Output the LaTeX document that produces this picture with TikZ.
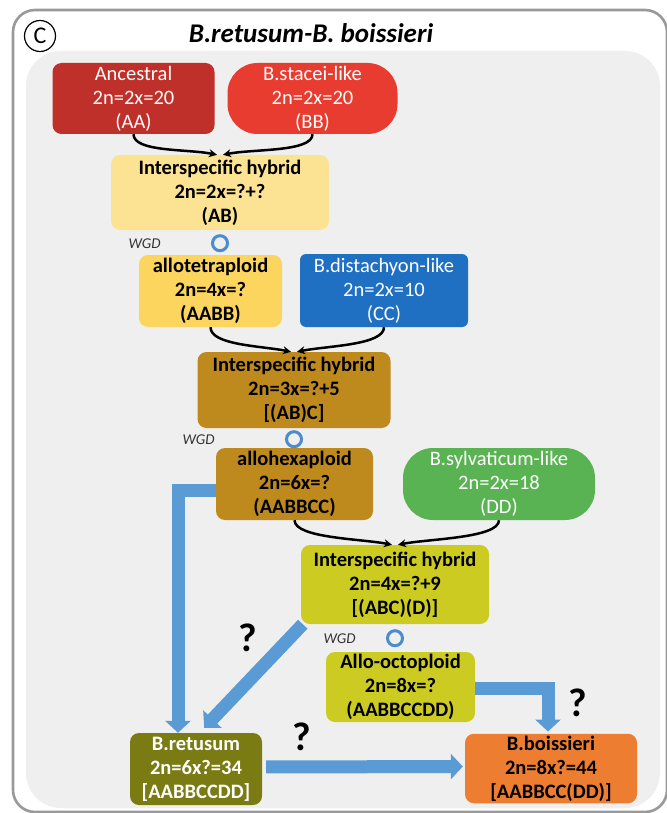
\documentclass[tikz,border=0pt]{standalone}
\usepackage{fontspec}
\setmainfont{Carlito}
\usetikzlibrary{positioning,arrows.meta}
\definecolor{panelC}{RGB}{239,239,239}
\definecolor{ancC}{RGB}{192,48,42}
\definecolor{staC}{RGB}{232,60,48}
\definecolor{hybaC}{RGB}{252,227,148}
\definecolor{tetC}{RGB}{252,213,95}
\definecolor{distC}{RGB}{31,111,195}
\definecolor{hexC}{RGB}{190,138,30}
\definecolor{sylC}{RGB}{90,179,82}
\definecolor{octC}{RGB}{203,203,34}
\definecolor{retC}{RGB}{123,123,20}
\definecolor{boiC}{RGB}{236,125,49}
\definecolor{arrC}{RGB}{91,155,213}
\definecolor{wgdC}{RGB}{74,140,208}

\begin{document}
\begin{tikzpicture}[x=1pt,y=-1pt,
	box/.style={rectangle,rounded corners=9pt,align=center,inner sep=2pt,font=\bfseries\fontsize{20.5}{24}\selectfont},
	pill/.style={box,rounded corners=30pt},
	wbox/.style={text=white,font=\fontsize{20.5}{24}\selectfont},
	merge/.style={-{Stealth[length=8pt,width=8pt]},line width=2.5pt,black},
	wgd/.style={circle,draw=wgdC,line width=3pt,minimum size=15pt,inner sep=0pt},
	wgdlbl/.style={font=\itshape\fontsize{15}{15}\selectfont,text=black!80},
	fat/.style={line width=13pt,draw=arrC,-{Triangle[width=25pt,length=12pt]}},
	ask/.style={font=\bfseries\fontsize{40}{40}\selectfont}]
			%% frame
			\fill[white] (0,0) rectangle (666,813);
			\useasboundingbox (0,0) rectangle (666,813);
			\draw[rounded corners=22pt,line width=2.6pt,draw=gray!80] (13,10) rectangle (667,812);
			\fill[panelC,rounded corners=35pt] (26,51) rectangle (660,808);
			\node[circle,draw,line width=1.2pt,minimum size=31pt,inner sep=0pt,font=\fontsize{24}{24}\selectfont] (lbl) at (40,36) {C};
			\node[font=\bfseries\itshape\fontsize{27}{27}\selectfont] (ttl) at (311,33) {B.retusum-B. boissieri};
			%% boxes
			\node[box,wbox,fill=ancC,minimum width=162pt,minimum height=71pt] (anc) at (133.5,98.5) {Ancestral\\2n=2x=20\\(AA)};
			\node[pill,wbox,fill=staC,minimum width=170pt,minimum height=71pt] (sta) at (312.5,98.5) {B.stacei-like\\2n=2x=20\\(BB)};
			\node[box,fill=hybaC,minimum width=218pt,minimum height=75pt] (hyb1) at (220,192.5) {Interspecific hybrid\\2n=2x=?+?\\(AB)};
			\node[box,fill=tetC,minimum width=143pt,minimum height=72pt] (tet) at (210.5,291) {allotetraploid\\2n=4x=?\\(AABB)};
			\node[box,wbox,fill=distC,rounded corners=6pt,minimum width=168pt,minimum height=73pt] (dist) at (384,290.5) {B.distachyon-like\\2n=2x=10\\(CC)};
			\node[box,fill=hexC,minimum width=193pt,minimum height=76pt] (hyb2) at (294,390) {Interspecific hybrid\\2n=3x=?+5\\{[}(AB)C{]}};
			\node[box,fill=hexC,minimum width=157pt,minimum height=72pt] (hex) at (294.5,484) {allohexaploid\\2n=6x=?\\(AABBCC)};
			\node[pill,wbox,fill=sylC,minimum width=192pt,minimum height=72pt] (syl) at (499,484) {B.sylvaticum-like\\2n=2x=18\\(DD)};
			\node[box,fill=octC,minimum width=188pt,minimum height=79pt] (hyb3) at (395,584.5) {Interspecific hybrid\\2n=4x=?+9\\{[}(ABC)(D){]}};
			\node[box,fill=octC,minimum width=149pt,minimum height=70pt] (oct) at (400.5,687) {Allo-octoploid\\2n=8x=?\\(AABBCCDD)};
			\node[box,text=white,fill=retC,minimum width=132pt,minimum height=72pt] (ret) at (196,769) {B.retusum\\2n=6x?=34\\{[}AABBCCDD{]}};
			\node[box,fill=boiC,minimum width=172pt,minimum height=69pt] (boi) at (551,768.5) {B.boissieri\\2n=8x?=44\\{[}AABBCC(DD){]}};
			%% WGD
			\node[wgd,below=4pt of hyb1] (w1) {};
			\node[wgdlbl,left=47pt of w1] (w1l) {WGD};
			\node[wgd,below=2pt of hyb2] (w2) {};
			\node[wgdlbl,left=67pt of w2] (w2l) {WGD};
			\node[wgd,below=5pt of hyb3] (w3) {};
			\node[wgdlbl,left=27pt of w3] (w3l) {WGD};
			%% crossings
			\draw[merge] (anc.south) .. controls +(0,18) and +(-30,-6) .. ([xshift=-3pt]hyb1.north);
			\draw[merge] (sta.south) .. controls +(0,18) and +(30,-6) .. ([xshift=3pt]hyb1.north);
			\draw[merge] (tet.south) .. controls +(0,18) and +(-30,-6) .. ([xshift=-3pt]hyb2.north);
			\draw[merge] (dist.south) .. controls +(0,18) and +(30,-6) .. ([xshift=3pt]hyb2.north);
			\draw[merge] (hex.south) .. controls +(0,18) and +(-30,-6) .. ([xshift=-3pt]hyb3.north);
			\draw[merge] (syl.south) .. controls +(0,18) and +(30,-6) .. ([xshift=3pt]hyb3.north);
			%% blue arrows
			\draw[fat] ([yshift=-6pt]hex.west) -| ([xshift=-18pt]ret.north);
			\draw[fat] ([shift={(2,0)}]hyb3.south west) -- ([shift={(-58,-5)}]ret.north east);
			\draw[fat,shorten >=2pt] ([yshift=-1pt]oct.east) -| ([xshift=-3pt]boi.north);
			\draw[fat,shorten <=4pt,shorten >=2pt] ([yshift=2pt]ret.east) -- ([yshift=2pt]boi.west);
			\node[ask] (q1) at (248,638) {?};
			\node[ask] (q2) at (302,737) {?};
			\node[ask] (q3) at (578,703) {?};
\end{tikzpicture}
\end{document}
